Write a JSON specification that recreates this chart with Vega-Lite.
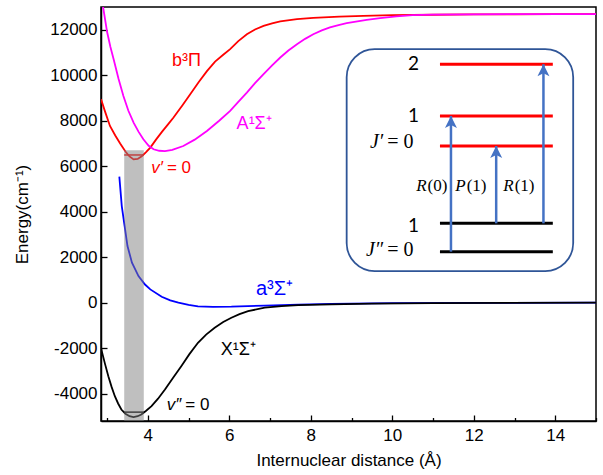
{
  "$schema": "https://vega.github.io/schema/vega-lite/v6.json",
  "width": 495,
  "height": 414,
  "autosize": "none",
  "padding": {"left": 101, "top": 7, "right": 7, "bottom": 54},
  "background": "white",
  "config": {
    "locale": {"number": {"decimal": ".", "thousands": "", "grouping": [3], "currency": ["", ""], "minus": "-"}},
    "view": {"stroke": "black", "strokeWidth": 1.5},
    "axis": {
      "grid": false,
      "domainColor": "black",
      "domainWidth": 1.5,
      "tickColor": "black",
      "tickWidth": 1.3,
      "labelFont": "Liberation Sans",
      "labelFontSize": 17,
      "labelColor": "black",
      "titleFont": "Liberation Sans",
      "titleFontSize": 17,
      "titleFontWeight": "normal",
      "titleColor": "black"
    }
  },
  "datasets": {
    "curves": [
      {"state": "b3Pi", "r": 2.85, "E": 8950}, {"state": "b3Pi", "r": 2.95, "E": 8400}, {"state": "b3Pi", "r": 3.07, "E": 7770},
      {"state": "b3Pi", "r": 3.2, "E": 7350}, {"state": "b3Pi", "r": 3.32, "E": 7000}, {"state": "b3Pi", "r": 3.45, "E": 6650},
      {"state": "b3Pi", "r": 3.55, "E": 6430}, {"state": "b3Pi", "r": 3.65, "E": 6300}, {"state": "b3Pi", "r": 3.75, "E": 6320},
      {"state": "b3Pi", "r": 3.85, "E": 6440}, {"state": "b3Pi", "r": 3.95, "E": 6610}, {"state": "b3Pi", "r": 4.06, "E": 6820},
      {"state": "b3Pi", "r": 4.2, "E": 7170}, {"state": "b3Pi", "r": 4.35, "E": 7520}, {"state": "b3Pi", "r": 4.5, "E": 7850},
      {"state": "b3Pi", "r": 4.63, "E": 8140}, {"state": "b3Pi", "r": 4.85, "E": 8680}, {"state": "b3Pi", "r": 5.04, "E": 9165},
      {"state": "b3Pi", "r": 5.25, "E": 9700}, {"state": "b3Pi", "r": 5.45, "E": 10180}, {"state": "b3Pi", "r": 5.65, "E": 10600},
      {"state": "b3Pi", "r": 5.85, "E": 10900}, {"state": "b3Pi", "r": 6.02, "E": 11150}, {"state": "b3Pi", "r": 6.22, "E": 11500},
      {"state": "b3Pi", "r": 6.43, "E": 11800}, {"state": "b3Pi", "r": 6.63, "E": 12010}, {"state": "b3Pi", "r": 6.84, "E": 12170},
      {"state": "b3Pi", "r": 7.05, "E": 12280}, {"state": "b3Pi", "r": 7.25, "E": 12365}, {"state": "b3Pi", "r": 7.66, "E": 12470},
      {"state": "b3Pi", "r": 8.06, "E": 12525}, {"state": "b3Pi", "r": 8.7, "E": 12580}, {"state": "b3Pi", "r": 9.29, "E": 12610},
      {"state": "b3Pi", "r": 10, "E": 12640}, {"state": "b3Pi", "r": 11, "E": 12660}, {"state": "b3Pi", "r": 12, "E": 12672},
      {"state": "b3Pi", "r": 13, "E": 12680}, {"state": "b3Pi", "r": 14, "E": 12684}, {"state": "b3Pi", "r": 15, "E": 12686},

      {"state": "A1Sigma", "r": 2.85, "E": 13450}, {"state": "A1Sigma", "r": 2.91, "E": 12900}, {"state": "A1Sigma", "r": 3.0, "E": 11900},
      {"state": "A1Sigma", "r": 3.08, "E": 11250}, {"state": "A1Sigma", "r": 3.16, "E": 10700}, {"state": "A1Sigma", "r": 3.28, "E": 9850},
      {"state": "A1Sigma", "r": 3.4, "E": 9090}, {"state": "A1Sigma", "r": 3.52, "E": 8450}, {"state": "A1Sigma", "r": 3.65, "E": 7920},
      {"state": "A1Sigma", "r": 3.77, "E": 7520}, {"state": "A1Sigma", "r": 3.89, "E": 7185}, {"state": "A1Sigma", "r": 4.02, "E": 6900},
      {"state": "A1Sigma", "r": 4.14, "E": 6745}, {"state": "A1Sigma", "r": 4.28, "E": 6680}, {"state": "A1Sigma", "r": 4.42, "E": 6660},
      {"state": "A1Sigma", "r": 4.6, "E": 6720}, {"state": "A1Sigma", "r": 4.87, "E": 6890}, {"state": "A1Sigma", "r": 5.15, "E": 7170},
      {"state": "A1Sigma", "r": 5.45, "E": 7550}, {"state": "A1Sigma", "r": 5.75, "E": 8000}, {"state": "A1Sigma", "r": 6.02, "E": 8430},
      {"state": "A1Sigma", "r": 6.22, "E": 8830}, {"state": "A1Sigma", "r": 6.43, "E": 9240}, {"state": "A1Sigma", "r": 6.63, "E": 9650},
      {"state": "A1Sigma", "r": 6.84, "E": 10045}, {"state": "A1Sigma", "r": 7.05, "E": 10430}, {"state": "A1Sigma", "r": 7.25, "E": 10780},
      {"state": "A1Sigma", "r": 7.45, "E": 11090}, {"state": "A1Sigma", "r": 7.66, "E": 11365}, {"state": "A1Sigma", "r": 7.86, "E": 11600},
      {"state": "A1Sigma", "r": 8.06, "E": 11805}, {"state": "A1Sigma", "r": 8.27, "E": 11970}, {"state": "A1Sigma", "r": 8.47, "E": 12100},
      {"state": "A1Sigma", "r": 8.68, "E": 12205}, {"state": "A1Sigma", "r": 8.88, "E": 12290}, {"state": "A1Sigma", "r": 9.37, "E": 12435},
      {"state": "A1Sigma", "r": 9.7, "E": 12510}, {"state": "A1Sigma", "r": 10.1, "E": 12590}, {"state": "A1Sigma", "r": 10.5, "E": 12640},
      {"state": "A1Sigma", "r": 11, "E": 12665}, {"state": "A1Sigma", "r": 12, "E": 12680}, {"state": "A1Sigma", "r": 13, "E": 12685},
      {"state": "A1Sigma", "r": 15, "E": 12688},

      {"state": "a3Sigma", "r": 3.3, "E": 5545}, {"state": "a3Sigma", "r": 3.36, "E": 4250}, {"state": "a3Sigma", "r": 3.43, "E": 3370},
      {"state": "a3Sigma", "r": 3.5, "E": 2490}, {"state": "a3Sigma", "r": 3.61, "E": 1760}, {"state": "a3Sigma", "r": 3.77, "E": 1170},
      {"state": "a3Sigma", "r": 3.93, "E": 800}, {"state": "a3Sigma", "r": 4.06, "E": 585}, {"state": "a3Sigma", "r": 4.34, "E": 264},
      {"state": "a3Sigma", "r": 4.55, "E": 100}, {"state": "a3Sigma", "r": 4.75, "E": 0}, {"state": "a3Sigma", "r": 5.0, "E": -100},
      {"state": "a3Sigma", "r": 5.23, "E": -160}, {"state": "a3Sigma", "r": 5.6, "E": -185}, {"state": "a3Sigma", "r": 6.05, "E": -176},
      {"state": "a3Sigma", "r": 6.87, "E": -125}, {"state": "a3Sigma", "r": 7.69, "E": -80}, {"state": "a3Sigma", "r": 8.5, "E": -55},
      {"state": "a3Sigma", "r": 10, "E": -20}, {"state": "a3Sigma", "r": 12, "E": -5}, {"state": "a3Sigma", "r": 15, "E": 0},

      {"state": "X1Sigma", "r": 2.85, "E": -2000}, {"state": "X1Sigma", "r": 2.95, "E": -2700}, {"state": "X1Sigma", "r": 3.03, "E": -3230},
      {"state": "X1Sigma", "r": 3.11, "E": -3700}, {"state": "X1Sigma", "r": 3.19, "E": -4110}, {"state": "X1Sigma", "r": 3.27, "E": -4430},
      {"state": "X1Sigma", "r": 3.35, "E": -4695}, {"state": "X1Sigma", "r": 3.45, "E": -4880}, {"state": "X1Sigma", "r": 3.55, "E": -4990},
      {"state": "X1Sigma", "r": 3.65, "E": -5030}, {"state": "X1Sigma", "r": 3.75, "E": -4990}, {"state": "X1Sigma", "r": 3.84, "E": -4915},
      {"state": "X1Sigma", "r": 3.95, "E": -4760}, {"state": "X1Sigma", "r": 4.09, "E": -4550}, {"state": "X1Sigma", "r": 4.25, "E": -4220},
      {"state": "X1Sigma", "r": 4.42, "E": -3815}, {"state": "X1Sigma", "r": 4.62, "E": -3300}, {"state": "X1Sigma", "r": 4.82, "E": -2790},
      {"state": "X1Sigma", "r": 5.02, "E": -2260}, {"state": "X1Sigma", "r": 5.23, "E": -1760}, {"state": "X1Sigma", "r": 5.43, "E": -1400},
      {"state": "X1Sigma", "r": 5.64, "E": -1100}, {"state": "X1Sigma", "r": 5.85, "E": -850}, {"state": "X1Sigma", "r": 6.05, "E": -660},
      {"state": "X1Sigma", "r": 6.25, "E": -500}, {"state": "X1Sigma", "r": 6.46, "E": -370}, {"state": "X1Sigma", "r": 6.87, "E": -220},
      {"state": "X1Sigma", "r": 7.28, "E": -150}, {"state": "X1Sigma", "r": 7.69, "E": -105}, {"state": "X1Sigma", "r": 8.5, "E": -70},
      {"state": "X1Sigma", "r": 9.5, "E": -40}, {"state": "X1Sigma", "r": 11, "E": -15}, {"state": "X1Sigma", "r": 15, "E": 0}
    ],
    "vlevels": [
      {"state": "b3Pi", "r": 3.42, "r2": 3.9, "E": 6495},
      {"state": "X1Sigma", "r": 3.42, "r2": 3.9, "E": -4810}
    ],
    "band": [{"r": 3.42, "r2": 3.9, "E": -5200, "E2": 6700}],
    "clabels": [
      {"state": "b3Pi", "txt": "b³Π", "r": 4.95, "E": 10410, "big": false},
      {"state": "A1Sigma", "txt": "A¹Σ⁺", "r": 6.61, "E": 7625, "big": false},
      {"state": "a3Sigma", "txt": "a³Σ⁺", "r": 7.11, "E": 335, "big": true},
      {"state": "X1Sigma", "txt": "X¹Σ⁺", "r": 6.22, "E": -2305, "big": false}
    ],
    "vlab": [
      {"state": "b3Pi", "it": "v′", "rest": "= 0", "r": 4.42, "E": 5910},
      {"state": "X1Sigma", "it": "v″", "rest": "= 0", "r": 4.87, "E": -4505}
    ],
    "box": [{"r": 8.88, "r2": 14.44, "E": 1390, "E2": 11145}],
    "jlevels": [
      {"state": "upper", "J": 2, "r": 11.17, "r2": 13.94, "E": 10485},
      {"state": "upper", "J": 1, "r": 11.17, "r2": 13.94, "E": 8210},
      {"state": "upper", "J": 0, "r": 11.17, "r2": 13.94, "E": 6890},
      {"state": "lower", "J": 1, "r": 11.17, "r2": 13.94, "E": 3490},
      {"state": "lower", "J": 0, "r": 11.17, "r2": 13.94, "E": 2245}
    ],
    "arrows": [
      {"line": "R(0)", "letter": "R", "arg": "(0)", "r": 11.44, "E": 2245, "E2": 8210, "lr": 10.84, "ly": 5130},
      {"line": "P(1)", "letter": "P", "arg": "(1)", "r": 12.55, "E": 3490, "E2": 6890, "lr": 11.8, "ly": 5130},
      {"line": "R(1)", "letter": "R", "arg": "(1)", "r": 13.71, "E": 3490, "E2": 10485, "lr": 12.98, "ly": 5130}
    ],
    "jdigits": [
      {"txt": "2", "r": 10.52, "E": 10485},
      {"txt": "1", "r": 10.52, "E": 8210},
      {"txt": "1", "r": 10.52, "E": 3370}
    ],
    "jlab": [
      {"it": "J′", "rest": "= 0", "r": 9.85, "E": 7050},
      {"it": "J″", "rest": "= 0", "r": 9.85, "E": 2300}
    ]
  },
  "layer": [
    {
      "data": {"name": "curves"},
      "mark": {"type": "line", "strokeWidth": 1.8, "clip": true},
      "encoding": {
        "x": {
          "field": "r", "type": "quantitative",
          "scale": {"domain": [2.85, 15], "nice": false, "zero": false},
          "axis": {
            "title": "Internuclear distance (Å)",
            "values": [3, 4, 5, 6, 7, 8, 9, 10, 11, 12, 13, 14, 15],
            "format": "d",
            "labelOpacity": {"condition": {"test": "datum.value % 2 !== 0", "value": 0}, "value": 1},
            "tickSize": -6,
            "tickDash": {"condition": {"test": "datum.value % 2 !== 0", "value": [3.5, 20]}, "value": [20, 0]},
            "labelPadding": 12,
            "labelOverlap": false,
            "labelFlush": false,
            "titleX": 247.5,
            "titleY": 39,
            "titleBaseline": "middle",
            "titleAlign": "center"
          }
        },
        "y": {
          "field": "E", "type": "quantitative",
          "scale": {"domain": [-5200, 13000], "nice": false, "zero": false},
          "axis": {
            "title": "Energy(cm⁻¹)",
            "values": [-4000, -2000, 0, 2000, 4000, 6000, 8000, 10000, 12000],
            "format": "d",
            "tickSize": -6,
            "labelPadding": 10,
            "labelFlush": false,
            "titleX": -79,
            "titleY": 207,
            "titleAngle": -90,
            "titleBaseline": "middle",
            "titleAlign": "center"
          }
        },
        "color": {
          "field": "state", "type": "nominal", "legend": null,
          "scale": {
            "domain": ["b3Pi", "A1Sigma", "a3Sigma", "X1Sigma", "upper", "lower"],
            "range": ["#ff0000", "#ff00ff", "#0000ff", "#000000", "#ff0000", "#000000"]
          }
        }
      }
    },
    {
      "data": {"name": "vlevels"},
      "mark": {"type": "rule", "strokeWidth": 1.5},
      "encoding": {
        "x": {"field": "r", "type": "quantitative"},
        "x2": {"field": "r2"},
        "y": {"field": "E", "type": "quantitative"},
        "color": {"field": "state", "type": "nominal", "legend": null}
      }
    },
    {
      "data": {"name": "band"},
      "mark": {"type": "rect", "color": "#808080", "opacity": 0.5},
      "encoding": {
        "x": {"field": "r", "type": "quantitative"},
        "x2": {"field": "r2"},
        "y": {"field": "E", "type": "quantitative"},
        "y2": {"field": "E2"}
      }
    },
    {
      "data": {"name": "clabels"},
      "transform": [{"filter": "!datum.big"}],
      "mark": {"type": "text", "font": "Liberation Sans", "fontSize": 18, "align": "center", "baseline": "alphabetic"},
      "encoding": {
        "x": {"field": "r", "type": "quantitative"},
        "y": {"field": "E", "type": "quantitative"},
        "text": {"field": "txt"},
        "color": {"field": "state", "type": "nominal", "legend": null}
      }
    },
    {
      "data": {"name": "clabels"},
      "transform": [{"filter": "datum.big"}],
      "mark": {"type": "text", "font": "Liberation Sans", "fontSize": 20, "align": "center", "baseline": "alphabetic"},
      "encoding": {
        "x": {"field": "r", "type": "quantitative"},
        "y": {"field": "E", "type": "quantitative"},
        "text": {"field": "txt"},
        "color": {"field": "state", "type": "nominal", "legend": null}
      }
    },
    {
      "data": {"name": "vlab"},
      "mark": {"type": "text", "font": "Liberation Sans", "fontSize": 17, "fontStyle": "italic", "align": "right", "baseline": "middle", "dx": -2},
      "encoding": {
        "x": {"field": "r", "type": "quantitative"},
        "y": {"field": "E", "type": "quantitative"},
        "text": {"field": "it"},
        "color": {"field": "state", "type": "nominal", "legend": null}
      }
    },
    {
      "data": {"name": "vlab"},
      "mark": {"type": "text", "font": "Liberation Sans", "fontSize": 17, "align": "left", "baseline": "middle", "dx": 2},
      "encoding": {
        "x": {"field": "r", "type": "quantitative"},
        "y": {"field": "E", "type": "quantitative"},
        "text": {"field": "rest"},
        "color": {"field": "state", "type": "nominal", "legend": null}
      }
    },
    {
      "data": {"name": "box"},
      "mark": {"type": "rect", "fill": "transparent", "stroke": "#2f5597", "strokeWidth": 1.8, "cornerRadius": 28},
      "encoding": {
        "x": {"field": "r", "type": "quantitative"},
        "x2": {"field": "r2"},
        "y": {"field": "E", "type": "quantitative"},
        "y2": {"field": "E2"}
      }
    },
    {
      "data": {"name": "jlevels"},
      "mark": {"type": "rule", "strokeWidth": 3},
      "encoding": {
        "x": {"field": "r", "type": "quantitative"},
        "x2": {"field": "r2"},
        "y": {"field": "E", "type": "quantitative"},
        "color": {"field": "state", "type": "nominal", "legend": null}
      }
    },
    {
      "data": {"name": "arrows"},
      "mark": {"type": "rule", "strokeWidth": 2.5, "color": "#4472c4"},
      "encoding": {
        "x": {"field": "r", "type": "quantitative"},
        "y": {"field": "E", "type": "quantitative"},
        "y2": {"field": "E2"}
      }
    },
    {
      "data": {"name": "arrows"},
      "mark": {"type": "point", "filled": true, "opacity": 1, "color": "#4472c4", "size": 144, "strokeWidth": 0, "shape": "M0,0L1,2L0,1.5L-1,2Z"},
      "encoding": {
        "x": {"field": "r", "type": "quantitative"},
        "y": {"field": "E2", "type": "quantitative"}
      }
    },
    {
      "data": {"name": "arrows"},
      "mark": {"type": "text", "font": "Liberation Serif", "fontSize": 17, "fontStyle": "italic", "align": "right", "baseline": "middle", "color": "black"},
      "encoding": {
        "x": {"field": "lr", "type": "quantitative"},
        "y": {"field": "ly", "type": "quantitative"},
        "text": {"field": "letter"}
      }
    },
    {
      "data": {"name": "arrows"},
      "mark": {"type": "text", "font": "Liberation Serif", "fontSize": 17, "align": "left", "baseline": "middle", "color": "black", "dx": 1},
      "encoding": {
        "x": {"field": "lr", "type": "quantitative"},
        "y": {"field": "ly", "type": "quantitative"},
        "text": {"field": "arg"}
      }
    },
    {
      "data": {"name": "jdigits"},
      "mark": {"type": "text", "font": "Lato", "fontSize": 19, "align": "center", "baseline": "middle", "color": "black"},
      "encoding": {
        "x": {"field": "r", "type": "quantitative"},
        "y": {"field": "E", "type": "quantitative"},
        "text": {"field": "txt"}
      }
    },
    {
      "data": {"name": "jlab"},
      "mark": {"type": "text", "font": "Liberation Serif", "fontSize": 20, "fontStyle": "italic", "align": "right", "baseline": "middle", "color": "black", "dx": -3},
      "encoding": {
        "x": {"field": "r", "type": "quantitative"},
        "y": {"field": "E", "type": "quantitative"},
        "text": {"field": "it"}
      }
    },
    {
      "data": {"name": "jlab"},
      "mark": {"type": "text", "font": "Liberation Serif", "fontSize": 20, "align": "left", "baseline": "middle", "color": "black", "dx": 1},
      "encoding": {
        "x": {"field": "r", "type": "quantitative"},
        "y": {"field": "E", "type": "quantitative"},
        "text": {"field": "rest"}
      }
    }
  ]
}
